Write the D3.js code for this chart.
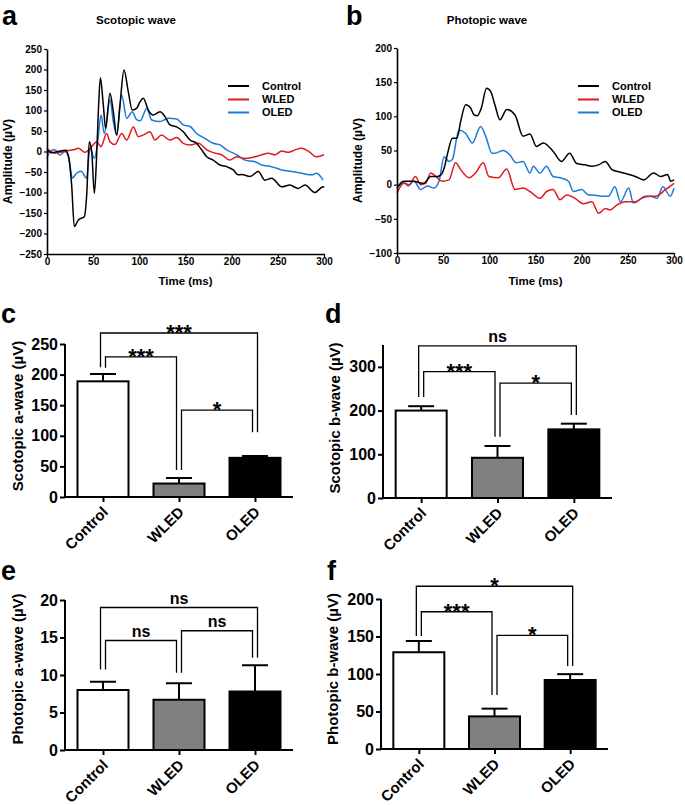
<!DOCTYPE html>
<html><head><meta charset="utf-8">
<script src="https://cdn.jsdelivr.net/npm/d3@7/dist/d3.min.js"></script>
<style>
body{margin:0;background:#fff}
svg{display:block;font-family:"Liberation Sans",Arial,sans-serif}
</style>
</head><body>
<svg id="fig" width="685" height="805"></svg>
<script>
// ---------------- DATA ----------------
const waveSeries = ["Control", "WLED", "OLED"];
const timeTicks = [0, 50, 100, 150, 200, 250, 300];
const scoAmpTicks = [-250, -200, -150, -100, -50, 0, 50, 100, 150, 200, 250];
const phoAmpTicks = [-100, -50, 0, 50, 100, 150, 200];

// Scotopic wave (panel a)
const scoControlT = [0,5,12,20,23,26.7,29.6,34,40.4,43,45.8,48.4,51.3,53.8,55.6,57.8,61,63.5,68.2,71.8,75.5,79,83.4,88,92.4,97,100.7,104.3,109.7,115,122.4,127.8,133.2,140.5,147.6,154.9,162,167.5,173,180,187.4,194.6,201.8,207,210.8,219.9,228.9,236,243.4,254.2,263,272,279.4,290,299,300];
const scoControlV = [4,-3,0,3,-9,-82,-183,-167,-159,-106,24,0,-102,-8,97,180,113,56,142,97,40,113,199,146,101,105,121,130,101,89,97,85,65,60,48,28,20,4,-13,-21,-33,-37,-45,-57,-56,-61,-49,-70,-65,-86,-82,-90,-82,-100,-86,-88];
const scoWledT = [0,4,8.7,14,19.5,25,30,34,41,48.4,53.8,58.5,64.6,68.2,73.6,80.9,86.3,93.5,98.9,104,111.5,117,124,133,140.5,147.6,154.9,164,173,182,189,198,205.4,214.5,225.3,232.5,239.7,247,254.2,261.4,268.6,275.8,283,292,300];
const scoWledV = [8,0,-4,-2,1,3,5,8,-2,12,24,12,44,24,17,44,28,60,36,40,48,28,40,28,34,20,16,20,4,-4,-8,-21,-13,-17,-13,-8,-4,-8,1,-2,4,8,1,-13,-8];
const scoOledT = [0,3.2,8.7,14,19.5,23.8,27.4,32,36.8,43,46.6,51.3,54.9,58.5,62,68.2,71.8,75.5,80.9,86.3,92.4,97,101,108,113.4,122.4,131.4,140.5,147.6,154.9,162,171,180,187.4,194.6,201.8,205.4,214.5,225.3,232.5,243.4,254.2,265,275.8,286.7,292,299];
const scoOledV = [-17,1,4,-9,0,-17,-65,-53,-48,-65,8,-17,24,89,44,126,73,40,138,81,97,78,75,105,77,73,81,79,65,61,44,32,20,16,4,-4,-8,-21,-25,-33,-37,-45,-49,-53,-57,-53,-70];

// Photopic wave (panel b)
const phoControlT = [0,3,7.6,18.4,24,29,36.5,43.7,48,51,54.5,60,65,69,74.4,79.8,83,87,91.3,97,101.5,106,111.5,118.8,127.8,136.5,144,151,158.5,169,178,187,194.6,203.6,211,218.4,225.6,232.8,240,251,258,267,278,285.6,293,296.5,300];
const phoControlV = [-5,0,5,5,3,2,12,12,15,24,44,68,68,93,117,112,103,101,112,141,136,117,95,110,102,71,74,56,61,49,34,46,31,29,27,29,34,22,19,15,12,7,17,12,15,5,7];
const phoWledT = [0,7.6,13,20,25.6,31,36.5,42,49,56.3,63.5,69,78,85,93.5,99.5,109.7,118.8,127.8,136.5,144,154.8,162,169,176.6,183.8,192.8,201.8,211,218.4,225.6,231,238,247,258,269,280,291,300];
const phoWledV = [-12,2,0,12,0,2,17,12,5,7,32,22,10,17,32,12,10,23,-7,-5,-10,-20,-10,-7,-22,-15,-20,-28,-25,-42,-35,-37,-30,-25,-25,-17,-17,-7,2];
const phoOledT = [0,6.5,12,18.4,25.6,32.9,40,45.5,51,56.3,60,67,74.4,81.6,90.6,96,103,106,115,122,129,136.5,144,147.6,154.8,162,169,176.6,185.7,191,200,207.5,211,222,229,236,242,251,256,265,274.4,281.6,288,296,300];
const phoOledV = [-5,5,-2,5,-7,-2,-5,5,41,34,37,80,75,61,85,71,46,46,50,44,32,34,17,27,17,27,12,10,5,-10,-7,-15,-15,-17,-17,-3,-25,-5,-27,-20,-17,-20,-3,-17,-5];

// Bar panels
const barCategories = ["Control", "WLED", "OLED"];
const scoAMean = [189, 22, 64];   const scoAErr = [12, 9, 3];
const scoBMean = [200, 92, 157];  const scoBErr = [10, 27, 13];
const phoAMean = [8.0, 6.7, 7.8]; const phoAErr = [1.1, 2.2, 3.5];
const phoBMean = [129, 43.5, 92]; const phoBErr = [15, 10.3, 7.8];
const scoATicks = [0, 50, 100, 150, 200, 250];
const scoBTicks = [0, 100, 200, 300];
const phoATicks = [0, 5, 10, 15, 20];
const phoBTicks = [0, 50, 100, 150, 200];

// significance brackets: [from, to, bracket level, left leg end, right leg end, label]
const scoASig = [["Control","OLED",268,212,106,"***"],["Control","WLED",229,211,44,"***"],["WLED","OLED",142,44,106,"*"]];
const scoBSig = [["Control","OLED",348,231,190,"ns"],["Control","WLED",289,231,140,"***"],["WLED","OLED",263,140,190,"*"]];
const phoASig = [["Control","OLED",19.0,10.75,12.3,"ns"],["Control","WLED",14.6,10.75,10.3,"ns"],["WLED","OLED",15.9,10.3,12.3,"ns"]];
const phoBSig = [["Control","OLED",217,150.7,110.7,"*"],["Control","WLED",183,150.7,72,"***"],["WLED","OLED",151.6,72,110.7,"*"]];

// ---------------- STYLE ----------------
const seriesColor = {Control: "#000000", WLED: "#e0191b", OLED: "#1f7ad6"};
const barFill = {Control: "#ffffff", WLED: "#808080", OLED: "#000000"};

const svg = d3.select("#fig");

function zip(t, v) { return t.map((d, i) => [d, v[i]]); }

function panelLetter(txt, x, y) {
  svg.append("text").attr("x", x).attr("y", y).attr("font-size", 27).attr("font-weight", "bold").text(txt);
}

function wavePanel(cfg) {
  const g = svg.append("g");
  const x = d3.scaleLinear().domain([0, 300]).range([cfg.x0, cfg.x1]);
  const y = d3.scaleLinear().domain(cfg.yDomain).range([cfg.yBottom, cfg.yTop]);
  const line = d3.line().x(d => x(d[0])).y(d => y(d[1])).curve(d3.curveMonotoneX);
  const order = ["OLED", "WLED", "Control"];
  order.forEach(name => {
    g.append("path").datum(cfg.data[name]).attr("d", line)
      .attr("fill", "none").attr("stroke", seriesColor[name]).attr("stroke-width", 1.5)
      .attr("stroke-linejoin", "round");
  });
  const ax = g.append("g").attr("transform", `translate(0,${cfg.yBottom})`)
    .call(d3.axisBottom(x).tickValues(timeTicks).tickSize(3).tickSizeOuter(0).tickPadding(1));
  const ay = g.append("g").attr("transform", `translate(${cfg.x0},0)`)
    .call(d3.axisLeft(y).tickValues(cfg.ticks).tickSize(3).tickSizeOuter(0).tickPadding(2));
  [ax, ay].forEach(a => {
    a.select(".domain").attr("stroke", "#000").attr("stroke-width", 1.6);
    a.selectAll(".tick line").attr("stroke", "#000").attr("stroke-width", 1.2);
    a.selectAll("text").attr("font-size", 10).attr("font-weight", "bold").attr("fill", "#000")
      .attr("font-family", "Liberation Sans, Arial, sans-serif");
  });
  g.append("text").attr("x", cfg.titleX).attr("y", 24).attr("text-anchor", "middle")
    .attr("font-size", 11.5).attr("font-weight", "bold").text(cfg.title);
  g.append("text").attr("x", (cfg.x0 + cfg.x1) / 2).attr("y", 285).attr("text-anchor", "middle")
    .attr("font-size", 11.5).attr("font-weight", "bold").text("Time (ms)");
  g.append("text").attr("transform", `translate(${cfg.yLabelX},${(cfg.yTop + cfg.yBottom) / 2 + 10}) rotate(-90)`)
    .attr("text-anchor", "middle").attr("font-size", 12).attr("font-weight", "bold").text("Amplitude (µV)");
  // legend
  const rows = [86, 99.5, 112.5];
  waveSeries.forEach((name, i) => {
    g.append("line").attr("x1", cfg.legX).attr("x2", cfg.legX + 21).attr("y1", rows[i]).attr("y2", rows[i])
      .attr("stroke", seriesColor[name]).attr("stroke-width", 2);
    g.append("text").attr("x", cfg.legX + 34).attr("y", rows[i]).attr("dy", "0.35em")
      .attr("font-size", 11).attr("font-weight", "bold").text(name);
  });
}

function barPanel(cfg) {
  const g = svg.append("g");
  const x = d3.scalePoint().domain(barCategories).range([cfg.x0, cfg.x1]).padding(0.5);
  const y = d3.scaleLinear().domain([0, cfg.yMax]).range([cfg.yBase, cfg.yTopPx]);
  const barW = 51, capW = 26;
  const rows = barCategories.map((c, i) => ({c, m: cfg.mean[i], e: cfg.err[i]}));
  // error bars
  g.selectAll("line.err").data(rows).enter().append("line")
    .attr("x1", d => x(d.c)).attr("x2", d => x(d.c)).attr("y1", d => y(d.m)).attr("y2", d => y(d.m + d.e))
    .attr("stroke", "#000").attr("stroke-width", 2);
  g.selectAll("line.cap").data(rows).enter().append("line")
    .attr("x1", d => x(d.c) - capW / 2).attr("x2", d => x(d.c) + capW / 2)
    .attr("y1", d => y(d.m + d.e)).attr("y2", d => y(d.m + d.e))
    .attr("stroke", "#000").attr("stroke-width", 2);
  g.selectAll("rect").data(rows).enter().append("rect")
    .attr("x", d => x(d.c) - barW / 2).attr("width", barW)
    .attr("y", d => y(d.m)).attr("height", d => y(0) - y(d.m))
    .attr("fill", d => barFill[d.c]).attr("stroke", "#000").attr("stroke-width", 2);
  // axes
  const ay = g.append("g").attr("transform", `translate(${cfg.x0},0)`)
    .call(d3.axisLeft(y).tickValues(cfg.ticks).tickSize(5).tickSizeOuter(0).tickPadding(2));
  ay.select(".domain").attr("d", `M0,${cfg.yBase}V${cfg.yTopPx}`);
  const ax = g.append("g").attr("transform", `translate(0,${cfg.yBase})`)
    .call(d3.axisBottom(x).tickSize(5).tickSizeOuter(0).tickFormat(""));
  ax.select(".domain").attr("d", `M${cfg.x0},0H${cfg.x1}`);
  [ax, ay].forEach(a => {
    a.select(".domain").attr("stroke", "#000").attr("stroke-width", 2);
    a.selectAll(".tick line").attr("stroke", "#000").attr("stroke-width", 2);
    a.selectAll("text").attr("font-size", 16).attr("font-weight", "bold").attr("fill", "#000")
      .attr("font-family", "Liberation Sans, Arial, sans-serif");
  });
  // category labels
  barCategories.forEach(c => {
    g.append("text").attr("transform", `translate(${x(c) + 6},${cfg.yBase + 16}) rotate(-45)`)
      .attr("text-anchor", "end").attr("font-size", 15).attr("font-weight", "bold").text(c);
  });
  // y label
  g.append("text").attr("transform", `translate(${cfg.yLabelX},${cfg.yLabelY}) rotate(-90)`)
    .attr("text-anchor", "middle").attr("font-size", 15).attr("font-weight", "bold").text(cfg.label);
  // brackets
  const gap = 2.5;
  const first = barCategories[0], last = barCategories[barCategories.length - 1];
  cfg.sig.forEach(s => {
    const [a, b, lvl, ya, yb, lab] = s;
    const outer = (a === first && b === last);
    const xa = x(a) + (outer ? -gap : gap);
    const xb = x(b) + (outer ? gap : -gap);
    g.append("path").attr("d", `M${xa},${y(ya)}V${y(lvl)}H${xb}V${y(yb)}`)
      .attr("fill", "none").attr("stroke", "#000").attr("stroke-width", 1.3);
    const isStar = lab.indexOf("*") >= 0;
    g.append("text").attr("x", (xa + xb) / 2).attr("y", y(lvl) + (isStar ? 7 : -4))
      .attr("text-anchor", "middle").attr("font-size", isStar ? 22 : 16)
      .attr("font-weight", "bold").text(lab);
  });
}

// ---------------- DRAW ----------------
wavePanel({
  x0: 47, x1: 324, yTop: 49, yBottom: 254, yDomain: [-250, 250], ticks: scoAmpTicks,
  title: "Scotopic wave", titleX: 136, yLabelX: 12, legX: 228,
  data: {Control: zip(scoControlT, scoControlV), WLED: zip(scoWledT, scoWledV), OLED: zip(scoOledT, scoOledV)}
});
wavePanel({
  x0: 397, x1: 674, yTop: 48, yBottom: 253, yDomain: [-100, 200], ticks: phoAmpTicks,
  title: "Photopic wave", titleX: 487, yLabelX: 362, legX: 578,
  data: {Control: zip(phoControlT, phoControlV), WLED: zip(phoWledT, phoWledV), OLED: zip(phoOledT, phoOledV)}
});

barPanel({x0: 65, x1: 293, yBase: 497, yTopPx: 344, yMax: 250, ticks: scoATicks,
  mean: scoAMean, err: scoAErr, sig: scoASig, label: "Scotopic a-wave (µV)", yLabelX: 23, yLabelY: 416});
barPanel({x0: 383, x1: 612, yBase: 498, yTopPx: 345, yMax: 350, ticks: scoBTicks,
  mean: scoBMean, err: scoBErr, sig: scoBSig, label: "Scotopic b-wave (µV)", yLabelX: 340, yLabelY: 418});
barPanel({x0: 65, x1: 293, yBase: 750, yTopPx: 600, yMax: 20, ticks: phoATicks,
  mean: phoAMean, err: phoAErr, sig: phoASig, label: "Photopic a-wave (µV)", yLabelX: 23, yLabelY: 669});
barPanel({x0: 381, x1: 608, yBase: 749, yTopPx: 599, yMax: 200, ticks: phoBTicks,
  mean: phoBMean, err: phoBErr, sig: phoBSig, label: "Photopic b-wave (µV)", yLabelX: 338, yLabelY: 669});

panelLetter("a", 2, 25);
panelLetter("b", 346, 25);
panelLetter("c", 1, 323);
panelLetter("d", 325, 323);
panelLetter("e", 1, 580);
panelLetter("f", 327, 580);
</script>
</body></html>
